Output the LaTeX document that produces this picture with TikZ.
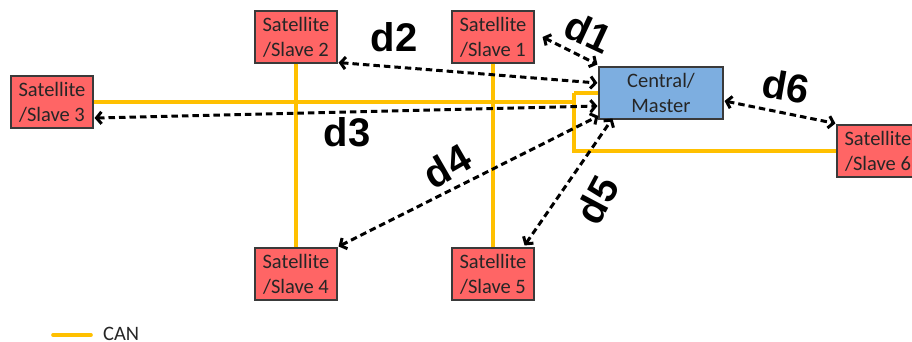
\documentclass[tikz,border=0pt]{standalone}
\usepackage{fontspec}
\setmainfont{Liberation Sans}
\newfontfamily\boxfont{Carlito}
\usetikzlibrary{arrows.meta,calc}

\definecolor{slavered}{HTML}{FF6565}
\definecolor{masterblue}{HTML}{7DAEE0}
\definecolor{canyellow}{HTML}{FFC000}
\definecolor{boxedge}{HTML}{3A3A3A}
\definecolor{boxtext}{HTML}{262626}

\tikzset{
  box/.style={draw=boxedge, line width=1.1pt, minimum height=52pt, inner sep=0pt,
    align=center, text=boxtext, font=\boxfont\fontsize{20.5}{25}\selectfont},
  slave/.style={box, fill=slavered, minimum width=82pt},
  master/.style={box, fill=masterblue, minimum width=124pt},
  canbus/.style={draw=canyellow, line width=3.6pt},
  link/.style={draw=black, line width=3pt, dash pattern=on 6.5pt off 4pt,
    {Straight Barb[length=5pt,width=12pt]}-{Straight Barb[length=5pt,width=12pt]}},
  dist/.style={font=\bfseries\fontsize{40}{42}\selectfont, inner sep=0pt}
}

\begin{document}
\begin{tikzpicture}[x=1pt,y=-1pt]
  \useasboundingbox (0,0) rectangle (912,342);

  % satellites and master
  \node[slave]  (s1) at (493,37)  {Satellite\\/Slave 1};
  \node[slave]  (s2) at (296,37)  {Satellite\\/Slave 2};
  \node[slave]  (s3) at (52,102)  {Satellite\\/Slave 3};
  \node[slave]  (s4) at (296,274) {Satellite\\/Slave 4};
  \node[slave]  (s5) at (493,274) {Satellite\\/Slave 5};
  \node[slave]  (s6) at (878,151) {Satellite\\/Slave 6};
  \node[master] (m)  at (661,93)  {Central/\\Master};

  % CAN bus wiring
  \coordinate (j1) at (574,102);
  \coordinate (j2) at (574,93);
  \coordinate (j3) at (574,151);
  \draw[canbus] (s3.east) -- (j1);
  \draw[canbus] (j2) -- (m.west);
  \draw[canbus] (j2) -- (j3) -- (s6.west);
  \draw[canbus] (s2.south) -- (s4.north);
  \draw[canbus] (s1.south) -- (s5.north);

  % distances between master and satellites
  \draw[link] ($(s1.east)+(8,0)$) -- ($(m.north west)+(-1,-2)$);
  \draw[link] ($(s2.south east)+(1,-1)$) -- ($(m.west)+(-1,-10)$);
  \draw[link] ($(s3.east)+(1,16)$) -- ($(m.west)+(-1,13)$);
  \draw[link] ($(s4.north east)+(1,-1)$) -- ($(m.west)+(0,23)$);
  \draw[link] ($(s5.north east)+(-10,-2)$) -- ($(m.south west)+(14,-1)$);
  \draw[link] ($(m.east)+(1,8)$) -- ($(s6.north west)+(-1,-1)$);

  % distance labels
  \node[dist, rotate=-25] (l1) at (589,32)  {d1};
  \node[dist]             (l2) at (394,37)  {d2};
  \node[dist]             (l3) at (347,132) {d3};
  \node[dist, rotate=30]  (l4) at (447,166) {d4};
  \node[dist, rotate=62]  (l5) at (597,200) {d5};
  \node[dist, rotate=-10] (l6) at (786,86)  {d6};

  % legend
  \coordinate (k1) at (53,335);
  \coordinate (k2) at (91,335);
  \draw[canbus, line cap=round] (k1) -- (k2);
  \node[anchor=west, inner sep=0pt, text=boxtext, font=\boxfont\fontsize{20.5}{25}\selectfont]
    (can) at (103,334) {CAN};
\end{tikzpicture}
\end{document}
